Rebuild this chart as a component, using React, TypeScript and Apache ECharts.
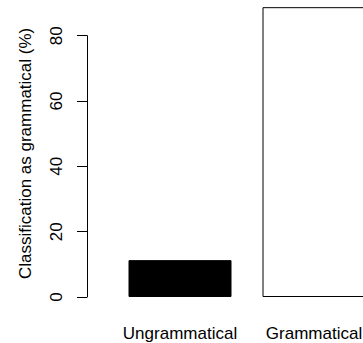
import React, { useEffect, useRef } from "react";
import * as echarts from "echarts";

const categories = ["Ungrammatical", "Grammatical"];
const values = [11.3, 88.8];
const barColors = ["#000000", "#ffffff"];
const yTicks = [0, 20, 40, 60, 80];
const yTitle = "Classification as grammatical (%)";

export default function App() {
  const ref = useRef<HTMLDivElement>(null);
  useEffect(() => {
    const chart = echarts.init(ref.current!, null, { renderer: "svg" });
    const font = "Liberation Sans, Arial, Helvetica, sans-serif";
    chart.setOption({
      animation: false,
      backgroundColor: "#ffffff",
      textStyle: { fontFamily: font },
      grid: [
        { left: 113, right: -18, top: 0, bottom: 36.2, containLabel: false, outerBoundsMode: "none" },
        { left: 87, right: 10, top: 35.7, bottom: 46, containLabel: false, outerBoundsMode: "none" },
      ],
      xAxis: [
        {
          type: "category",
          gridIndex: 0,
          data: categories,
          axisLine: { show: false },
          axisTick: { show: false },
          axisLabel: { color: "#000", fontSize: 17, margin: 18, interval: 0, hideOverlap: false, fontFamily: font },
        },
        { type: "value", gridIndex: 1, show: false, min: 0, max: 1 },
      ],
      yAxis: [
        {
          type: "value",
          gridIndex: 0,
          min: -3,
          max: 91,
          axisLine: { show: false },
          axisTick: { show: false },
          axisLabel: { show: false },
          splitLine: { show: false },
          name: yTitle,
          nameLocation: "middle",
          nameRotate: 90,
          nameGap: 79,
          nameTextStyle: { color: "#000", fontSize: 17, fontFamily: font },
        },
        {
          type: "value",
          gridIndex: 1,
          min: yTicks[0],
          max: yTicks[yTicks.length - 1],
          interval: 20,
          axisLine: { show: true, lineStyle: { color: "#000", width: 1 } },
          axisTick: { show: true, length: 10, lineStyle: { color: "#000", width: 1 } },
          axisLabel: { color: "#000", fontSize: 17, rotate: 90, margin: 22, fontFamily: font },
          splitLine: { show: false },
        },
      ],
      series: [
        {
          type: "bar",
          xAxisIndex: 0,
          yAxisIndex: 0,
          barWidth: 103,
          data: values.map((v, i) => ({
            value: v,
            itemStyle: { color: barColors[i], borderColor: "#000", borderWidth: 1 },
          })),
        },
      ],
    });
    return () => chart.dispose();
  }, []);
  return (
    <div
      ref={ref}
      style={{ position: "fixed", left: 0, top: 0, width: 363, height: 343, background: "#fff" }}
    />
  );
}
